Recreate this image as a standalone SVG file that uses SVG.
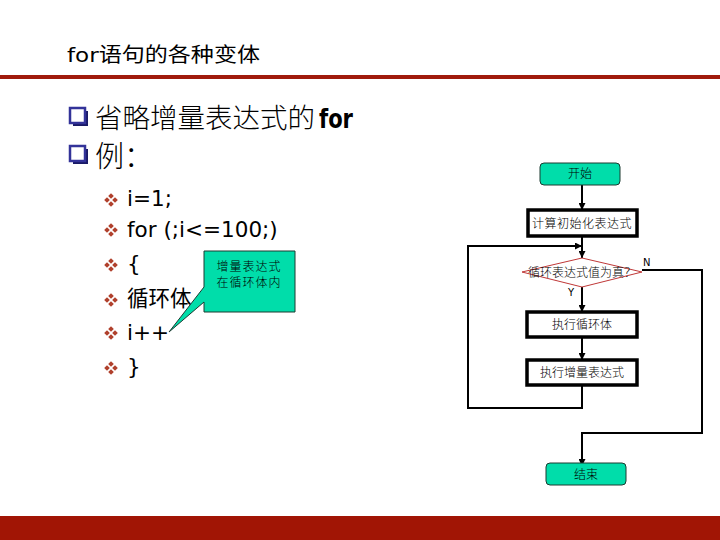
<svg xmlns="http://www.w3.org/2000/svg" width="720" height="540" viewBox="0 0 720 540">
<defs>
<style>
.title{font-family:"DejaVu Sans","Noto Sans CJK SC",sans-serif;font-size:20px;fill:#000}
.l1{font-family:"Noto Sans CJK SC",sans-serif;font-size:29px;fill:#000;font-weight:300}
.code{font-family:"DejaVu Sans","Noto Sans CJK SC",sans-serif;font-size:21.5px;fill:#000}
.fc{font-family:"Noto Sans CJK SC",sans-serif;font-size:12px;fill:#000;text-anchor:middle;font-weight:300}
.co{letter-spacing:1px}
.lbl{font-family:"DejaVu Sans",sans-serif;font-size:10px;fill:#000}
.box{fill:#fff;stroke:#000;stroke-width:3.5}
.term{fill:#00DDAA;stroke:#1c3a30;stroke-width:1}
.wire{fill:none;stroke:#000;stroke-width:2}
</style>
<marker id="ah" viewBox="0 0 8 8" refX="8" refY="4" markerWidth="7" markerHeight="7" markerUnits="userSpaceOnUse" orient="auto">
<path d="M0,0 L8,4 L0,8 Z" fill="#000"/>
</marker>
<g id="sb">
<rect x="-2" y="-2" width="4" height="4" transform="translate(0,-4) rotate(45)" fill="#B0402C"/>
<rect x="-2" y="-2" width="4" height="4" transform="translate(0,4) rotate(45)" fill="#B0402C"/>
<rect x="-2" y="-2" width="4" height="4" transform="translate(-4,0) rotate(45)" fill="#B0402C"/>
<rect x="-2" y="-2" width="4" height="4" transform="translate(4,0) rotate(45)" fill="#B0402C"/>
</g>
<g id="qb">
<rect x="3" y="3" width="15" height="15" fill="#1a1a66"/>
<rect x="0" y="0" width="15" height="15" fill="#fff" stroke="#333399" stroke-width="2.5"/>
</g>
</defs>
<rect width="720" height="540" fill="#fff"/>

<g id="header">
<text class="title" x="67" y="62" textLength="193" lengthAdjust="spacingAndGlyphs">for语句的各种变体</text>
<rect x="0" y="75" width="720" height="4" fill="#A01A0C"/>
</g>

<g id="bullets">
<use href="#qb" x="70" y="108"/>
<text class="l1" x="95" y="128" style="font-size:27.5px">省略增量表达式的</text>
<text x="319" y="128" font-family="DejaVu Sans" font-weight="bold" font-size="26" textLength="34" lengthAdjust="spacingAndGlyphs">for</text>
<use href="#qb" x="70" y="146"/>
<text class="l1" x="95" y="167">例：</text>
<use href="#sb" x="111" y="200"/>
<text class="code" x="127" y="206">i=1;</text>
<use href="#sb" x="111" y="230"/>
<text class="code" x="127" y="237">for (;i&lt;=100;)</text>
<use href="#sb" x="111" y="265"/>
<text class="code" x="127" y="271">{</text>
<use href="#sb" x="111" y="300"/>
<text class="code" x="127" y="306">循环体</text>
<use href="#sb" x="111" y="333"/>
<text class="code" x="127" y="340">i++</text>
<use href="#sb" x="111" y="368"/>
<text class="code" x="127" y="374">}</text>
</g>

<g id="callout">
<path d="M204,251 H295 V312 H204 V302 L169,332 L204,287 Z" fill="#00DDAA" stroke="#1c3a30" stroke-width="1"/>
<text class="fc co" x="249" y="271">增量表达式</text>
<text class="fc co" x="249" y="287">在循环体内</text>
</g>

<g id="connectors">
<line class="wire" x1="582" y1="185" x2="582" y2="210" marker-end="url(#ah)"/>
<line class="wire" x1="582" y1="236" x2="582" y2="258" marker-end="url(#ah)"/>
<line class="wire" x1="582" y1="287" x2="582" y2="312" marker-end="url(#ah)"/>
<line class="wire" x1="582" y1="337" x2="582" y2="360" marker-end="url(#ah)"/>
<polyline class="wire" points="582,385 582,408 468,408 468,246 582,246" marker-end="url(#ah)"/>
<polyline class="wire" points="642,270 702,270 702,433 582,433 582,466" marker-end="url(#ah)"/>
<text class="lbl" x="643" y="266">N</text>
<text class="lbl" x="568" y="296">Y</text>
</g>

<g id="start">
<rect class="term" x="540" y="163" width="80" height="22" rx="4"/>
<text class="fc" x="580" y="178">开始</text>
</g>
<g id="init">
<rect class="box" x="528" y="210" width="109" height="26"/>
<text class="fc" x="582" y="228" style="letter-spacing:0.5px">计算初始化表达式</text>
</g>
<g id="cond">
<polygon points="522,272 582,258 642,272 582,287" fill="#fff" stroke="#C03838" stroke-width="1"/>
<text class="fc" x="582" y="277">循环表达式值为真？</text>
</g>
<g id="body">
<rect class="box" x="527" y="312" width="110" height="25"/>
<text class="fc" x="582" y="329">执行循环体</text>
</g>
<g id="incr">
<rect class="box" x="527" y="360" width="110" height="25"/>
<text class="fc" x="582" y="377">执行增量表达式</text>
</g>
<g id="end">
<rect class="term" x="546" y="463" width="80" height="22" rx="4"/>
<text class="fc" x="586" y="479">结束</text>
</g>

<rect id="footer" x="0" y="516" width="720" height="24" fill="#A11505"/>
</svg>
